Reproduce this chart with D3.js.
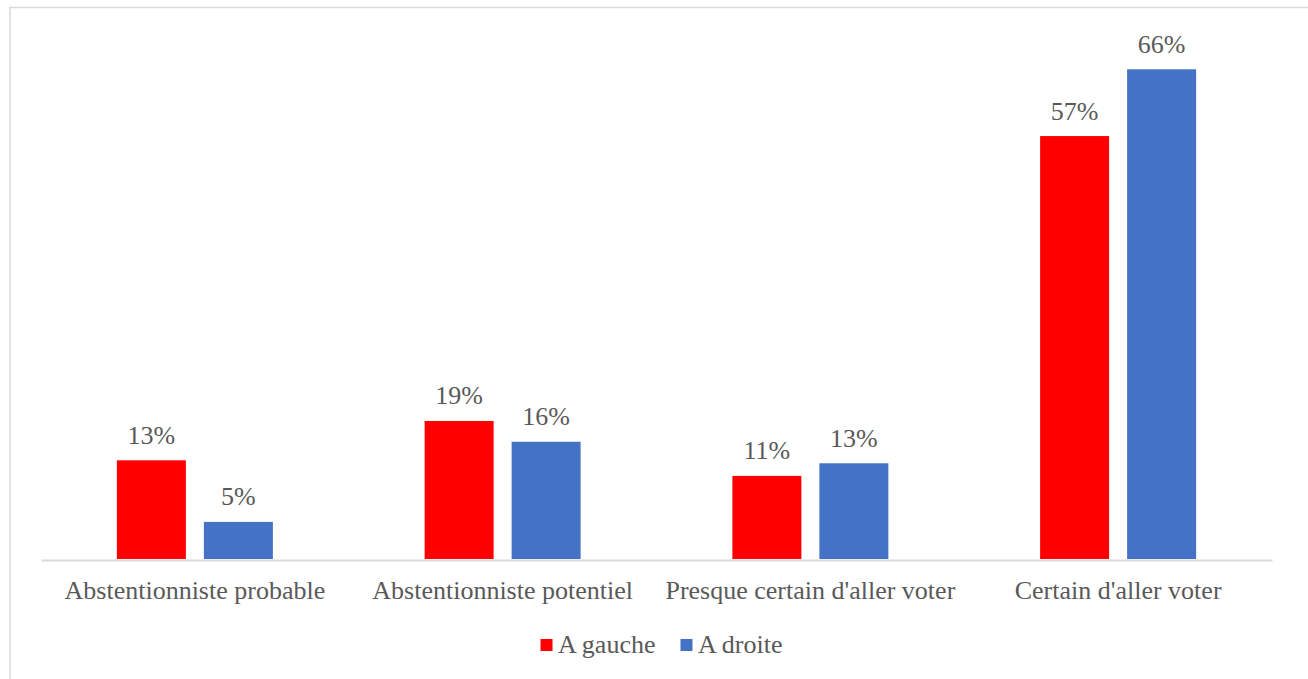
<!DOCTYPE html>
<html lang="fr">
<head>
<meta charset="UTF-8">
<title>Intention de vote</title>
<style>
  body { margin: 0; background: #fff; }
</style>
</head>
<body>
<svg id="chart"></svg>
<script src="https://cdn.jsdelivr.net/npm/d3@7/dist/d3.min.js"></script>
<script>
// données (en %)
const categories = ["Abstentionniste probable", "Abstentionniste potentiel", "Presque certain d'aller voter", "Certain d'aller voter"];
const seriesNames = ["A gauche", "A droite"];
const gauche = [13.3, 18.6, 11.2, 57];
const droite = [5, 15.8, 12.9, 66];
const labelsGauche = ["13%", "19%", "11%", "57%"];
const labelsDroite = ["5%", "16%", "13%", "66%"];
const colors = ["#FF0000", "#4472C4"];

const FONT = "'Liberation Serif', 'DejaVu Serif', serif";
const TXT = "#595959";

const W = 1308, H = 679;
const svg = d3.select("#chart").attr("width", W).attr("height", H);

// cadre
svg.append("rect")
  .attr("x", 10).attr("y", 7.5)
  .attr("width", W + 20).attr("height", H + 20)
  .attr("fill", "none").attr("stroke", "#d9d9d9").attr("stroke-width", 1.5);

const left = 41, right = 1272, base = 559;

const x = d3.scaleBand().domain(categories).range([left, right])
  .paddingInner(0.4931).paddingOuter(0.4931 / 2);
const xs = d3.scaleBand().domain(seriesNames).range([0, x.bandwidth()])
  .paddingInner(18 / 87).paddingOuter(0);
const y = d3.scaleLinear().domain([0, 70]).range([base, base - 70 * 7.42]);

const rows = categories.map((c, i) => ({
  cat: c,
  vals: [
    { s: seriesNames[0], v: gauche[i], lab: labelsGauche[i], col: colors[0] },
    { s: seriesNames[1], v: droite[i], lab: labelsDroite[i], col: colors[1] }
  ]
}));

const groups = svg.append("g").selectAll("g")
  .data(rows).enter().append("g")
  .attr("transform", d => "translate(" + x(d.cat) + ",0)");

groups.selectAll("rect")
  .data(d => d.vals).enter().append("rect")
  .attr("x", d => xs(d.s))
  .attr("y", d => y(d.v))
  .attr("width", xs.bandwidth())
  .attr("height", d => y(0) - y(d.v))
  .attr("fill", d => d.col);

groups.selectAll("text")
  .data(d => d.vals).enter().append("text")
  .attr("x", d => xs(d.s) + xs.bandwidth() / 2)
  .attr("y", d => y(d.v) - 16.5)
  .attr("text-anchor", "middle")
  .style("font-family", FONT)
  .style("font-size", "26px")
  .style("fill", TXT)
  .text(d => d.lab);

// axe des x
const xAxis = svg.append("g")
  .attr("transform", "translate(0," + (base + 1) + ")")
  .call(d3.axisBottom(x).tickSize(0).tickPadding(0).tickSizeOuter(0));
xAxis.select(".domain").attr("stroke", "#d9d9d9").attr("stroke-width", 2);
xAxis.selectAll(".tick text")
  .attr("dy", null)
  .attr("y", 39)
  .style("font-family", FONT)
  .style("font-size", "26px")
  .style("fill", TXT);

// légende
const legend = svg.append("g");
let lx = 0;
seriesNames.forEach((s, i) => {
  const it = legend.append("g").attr("transform", "translate(" + lx + ",0)");
  it.append("rect").attr("x", 0).attr("y", -14).attr("width", 12).attr("height", 12).attr("fill", colors[i]);
  const t = it.append("text").attr("x", 17.5).attr("y", 0)
    .style("font-family", FONT).style("font-size", "26px").style("fill", TXT)
    .text(s);
  lx += 17.5 + t.node().getComputedTextLength() + 25;
});
const legW = lx - 25;
legend.attr("transform", "translate(" + (661.5 - legW / 2) + ",653)");
</script>
</body>
</html>
